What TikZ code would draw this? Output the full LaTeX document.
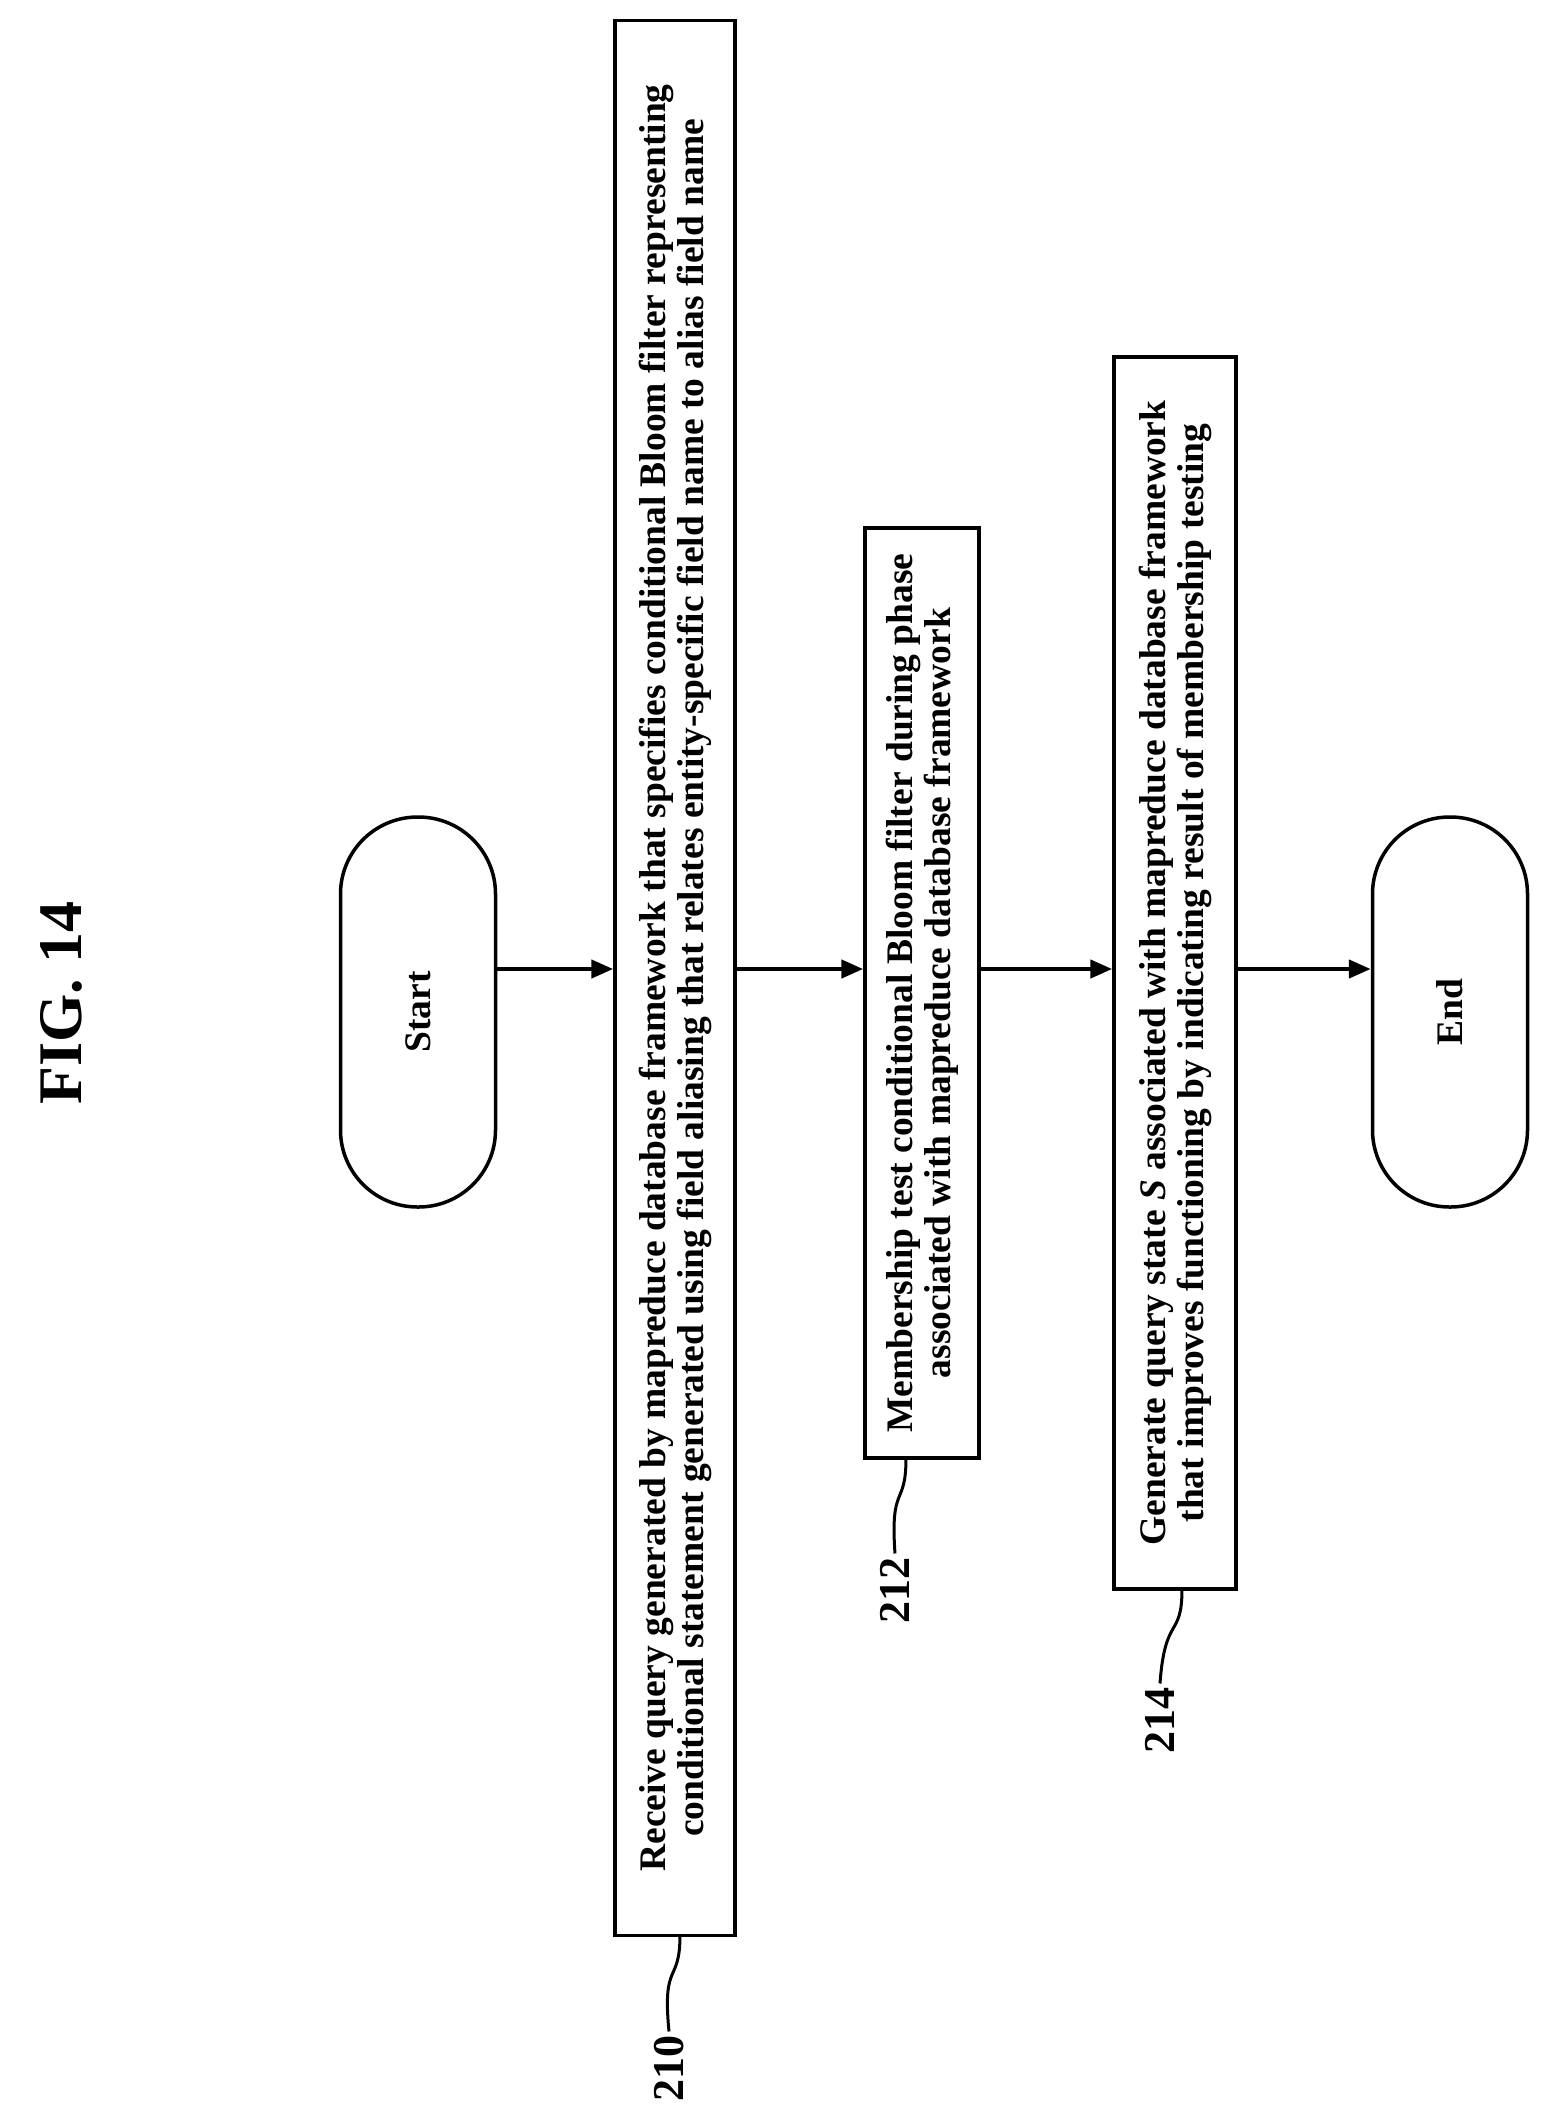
\documentclass[tikz,border=0pt]{standalone}
\usepackage{fontspec}
\setmainfont{Liberation Serif}
\usetikzlibrary{arrows.meta}
\begin{document}
\begin{tikzpicture}[x=1pt,y=-1pt,
  boxtext/.style={draw,line width=3.5pt,rotate=90,align=center,font=\bfseries\fontsize{37.5}{38}\selectfont,inner sep=0pt},
  term/.style={draw,line width=3.5pt,rotate=90,rounded corners=77pt,minimum width=390pt,minimum height=155pt,font=\bfseries\fontsize{37.5}{38}\selectfont},
  flow/.style={line width=4.5pt,-{Triangle[length=22pt,width=18pt]}},
  lead/.style={line width=3pt},
  reflabel/.style={rotate=90,font=\bfseries\fontsize{44}{50}\selectfont}]
\useasboundingbox (0,0) rectangle (1562,2125);
\node[rotate=90,font=\bfseries\fontsize{62}{70}\selectfont] (fig) at (61,1003) {FIG. 14};
\node[term] (start) at (418,1012) {Start};
\node[boxtext,minimum width=1915pt,minimum height=120pt] (b210) at (675,978) {Receive query generated by mapreduce database framework that specifies conditional Bloom filter representing\\conditional statement generated using field aliasing that relates entity-specific field name to alias field name};
\node[boxtext,minimum width=930pt,minimum height=114pt] (b212) at (922,993) {Membership test conditional Bloom filter during phase\\associated with mapreduce database framework};
\node[boxtext,minimum width=1232pt,minimum height=122pt] (b214) at (1175,973) {Generate query state \textit{S} associated with mapreduce database framework\\that improves functioning by indicating result of membership testing};
\node[term] (end) at (1450,1012) {End};
\coordinate (ay) at (0,969);
\draw[flow] (start.south |- ay) -- (b210.north |- ay);
\draw[flow] (b210.south |- ay) -- (b212.north |- ay);
\draw[flow] (b212.south |- ay) -- (b214.north |- ay);
\draw[flow] (b214.south |- ay) -- (end.north |- ay);
\node[reflabel] (l210) at (669,2068) {210};
\node[reflabel] (l212) at (895,1590) {212};
\node[reflabel] (l214) at (1160,1720) {214};
\draw[lead] (680,1935) .. controls (680,1985) and (662,1960) .. (l210.east);
\draw[lead] (906,1458) .. controls (906,1508) and (890,1483) .. (l212.east);
\draw[lead] (1182,1589) .. controls (1182,1639) and (1165,1614) .. (l214.east);
\end{tikzpicture}
\end{document}
